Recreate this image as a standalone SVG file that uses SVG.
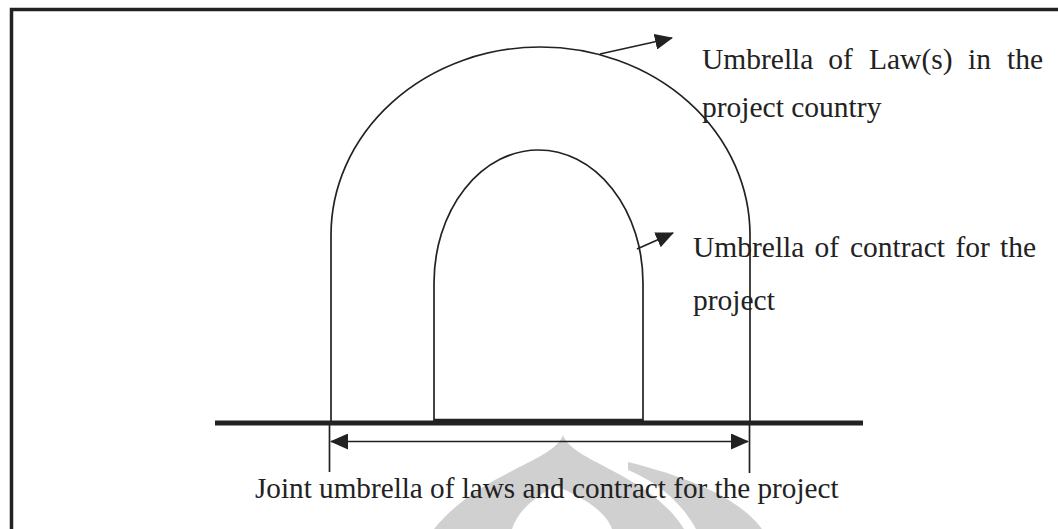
<svg xmlns="http://www.w3.org/2000/svg" width="1058" height="529" viewBox="0 0 1058 529">
  <style>
    .ln { fill: none; stroke: #222; stroke-width: 1.7; }
    .txt { font-family: "Liberation Serif", "Times New Roman", serif; font-size: 29.5px; fill: #222; }
    .wm { fill: #d0d0d0; }
  </style>
  <defs>
    <marker id="head" viewBox="0 0 18 16" refX="17" refY="8" markerWidth="18" markerHeight="16" orient="auto-start-reverse" markerUnits="userSpaceOnUse">
      <path d="M0,0 L18,8 L0,16 Z" fill="#222"/>
    </marker>
  </defs>

  <rect width="1058" height="529" fill="#fff"/>

  <!-- faint emblem behind the caption -->
  <g id="emblem">
    <path class="wm" d="M563,435 C572,462 650,474 684,529 L434,529 C480,472 554,462 563,435 Z"/>
    <path fill="#fff" d="M556,486 C585,498 606,512 612,529 L512,529 C518,510 536,496 556,486 Z"/>
    <path class="wm" d="M628,462 C700,480 742,502 762,529 L696,529 C680,500 656,482 628,470 Z"/>
  </g>

  <!-- frame: top and left edges -->
  <g id="frame">
    <path d="M11.5,529 L11.5,9.5 L1058,9.5" fill="none" stroke="#222" stroke-width="3.5"/>
  </g>

  <!-- ground line -->
  <g id="ground">
    <line x1="215" y1="423" x2="863" y2="423" stroke="#222" stroke-width="5"/>
  </g>

  <!-- outer arch: law of the project country -->
  <g id="law-arch">
    <path class="ln" d="M331,423 L331,235 A209.5,188 0 0 1 750,235 L750,423"/>
  </g>

  <!-- inner arch: project contract -->
  <g id="contract-arch">
    <path class="ln" d="M434,421 L434,283 A104.5,133 0 0 1 643,283 L643,421 Z"/>
    <line x1="434" y1="420" x2="643" y2="420" stroke="#222" stroke-width="2.5"/>
  </g>

  <g id="connectors">
    <!-- extension ticks below the ground line -->
    <line class="ln" x1="329.5" y1="425" x2="329.5" y2="472"/>
    <line class="ln" x1="749.5" y1="425" x2="749.5" y2="473"/>
    <!-- span of the joint umbrella -->
    <line class="ln" x1="331" y1="441.5" x2="748" y2="441.5" marker-start="url(#head)" marker-end="url(#head)"/>
    <!-- label pointers -->
    <line class="ln" x1="600" y1="54" x2="672" y2="38" marker-end="url(#head)"/>
    <line class="ln" x1="637" y1="249" x2="673" y2="233" marker-end="url(#head)"/>
  </g>

  <g id="label-law">
    <text class="txt" y="69"><tspan x="702">Umbrella</tspan><tspan x="828.3">of</tspan><tspan x="869">Law(s)</tspan><tspan x="968">in</tspan><tspan x="1007">the</tspan></text>
    <text class="txt" x="702" y="117">project country</text>
  </g>

  <g id="label-contract">
    <text class="txt" y="257"><tspan x="693">Umbrella</tspan><tspan x="814.5">of</tspan><tspan x="850">contract</tspan><tspan x="955.5">for</tspan><tspan x="1000">the</tspan></text>
    <text class="txt" x="693" y="310">project</text>
  </g>

  <g id="label-joint">
    <text class="txt" x="255" y="498" style="font-size:29.2px">Joint umbrella of laws and contract for the project</text>
  </g>
</svg>
